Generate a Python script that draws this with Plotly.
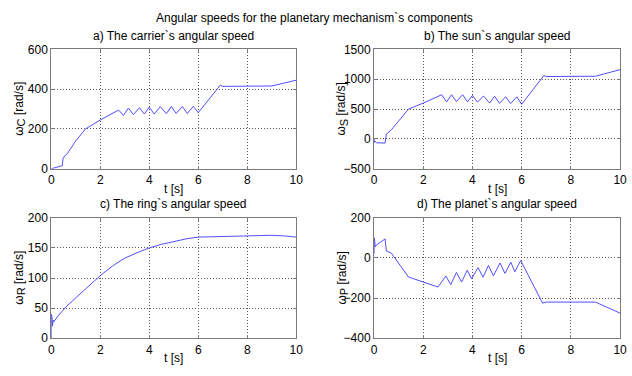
import plotly.graph_objects as go

# ---- data ----
t_carrier = [0, 0.2, 0.45, 0.48, 0.55, 0.65, 1.0, 1.4, 2.0, 2.75, 2.95, 3.15, 3.35, 3.6, 3.8, 4.0, 4.2,
             4.45, 4.7, 4.9, 5.1, 5.35, 5.55, 5.8, 6.0, 6.9, 7.0, 8.0, 9.0, 10.0]
w_carrier = [0, 5, 15, 50, 65, 75, 140, 200, 245, 295, 268, 305, 272, 307, 275, 310, 275,
             312, 277, 313, 278, 313, 278, 313, 282, 420, 414, 415, 416, 445]

t_sun = [0, 0.02, 0.05, 0.1, 0.45, 0.5, 0.7, 1.0, 1.4, 2.0, 2.75, 2.95, 3.15, 3.35, 3.6, 3.8, 4.0,
         4.2, 4.45, 4.7, 4.9, 5.1, 5.35, 5.55, 5.8, 6.0, 6.9, 7.0, 8.0, 9.0, 10.0]
w_sun = [0, -60, -40, -65, -70, 80, 150, 300, 500, 600, 740, 620, 740, 625, 740, 620, 730,
         615, 720, 600, 715, 595, 705, 590, 705, 580, 1060, 1045, 1048, 1050, 1160]

t_ring = [0, 0.01, 0.02, 0.03, 0.05, 0.08, 0.1, 0.3, 0.6, 1.0, 1.5, 2.0, 2.5, 3.0, 3.5, 4.0, 4.5,
          5.0, 5.5, 6.0, 6.5, 7.0, 8.0, 9.0, 9.5, 10.0]
w_ring = [0, 40, 15, 35, 20, 30, 27, 38, 52, 67, 85, 104, 120, 133, 142, 150, 156,
          161, 165, 168, 168.5, 169, 170, 171, 170, 168]

t_planet = [0, 0.01, 0.02, 0.03, 0.05, 0.1, 0.45, 0.5, 0.7, 1.4, 2.0, 2.6, 2.92, 3.12, 3.35, 3.56,
            3.79, 3.96, 4.23, 4.43, 4.65, 4.85, 5.12, 5.32, 5.56, 5.72, 5.96, 6.85, 7.0, 8.0, 9.0, 10.0]
w_planet = [20, 100, 40, 80, 55, 65, 95, 35, 25, -95, -120, -145, -90, -133, -72, -120,
            -61, -104, -48, -96, -37, -89, -25, -77, -21, -69, -13, -225, -220, -220, -220, -275]

x_ticks = [0, 2, 4, 6, 8, 10]
panels = [
    dict(t=t_carrier, w=w_carrier, title="a) The carrier`s angular speed", sub="C",
         yrange=[0, 600], yticks=[0, 200, 400, 600]),
    dict(t=t_sun, w=w_sun, title="b) The sun`s angular speed", sub="S",
         yrange=[-500, 1500], yticks=[-500, 0, 500, 1000, 1500]),
    dict(t=t_ring, w=w_ring, title="c) The ring`s angular speed", sub="R",
         yrange=[0, 200], yticks=[0, 50, 100, 150, 200]),
    dict(t=t_planet, w=w_planet, title="d) The planet`s angular speed", sub="P",
         yrange=[-400, 200], yticks=[-400, -200, 0, 200]),
]

W, H = 632, 376
# plot-area pixel boxes (left, right, top, bottom)
boxes = [(49, 298, 44, 168), (377, 627, 44, 168), (49, 298, 219, 344), (377, 627, 219, 344)]

FONT = "Arial, Liberation Sans, sans-serif"
FS = 12
fig = go.Figure()
layout = dict(width=W, height=H, margin=dict(l=0, r=0, t=0, b=0), paper_bgcolor="white",
              plot_bgcolor="white", showlegend=False, font=dict(family=FONT, size=FS, color="black"))
annotations = []
for i, (p, (l, r, tp, bt)) in enumerate(zip(panels, boxes)):
    n = "" if i == 0 else str(i + 1)
    fig.add_trace(go.Scatter(x=p["t"], y=p["w"], mode="lines", line=dict(color="#4f4fff", width=1),
                             xaxis="x" + n, yaxis="y" + n))
    common = dict(showline=True, linecolor="#7a7a7a", linewidth=1, mirror="ticks", ticks="inside",
                  ticklen=3, tickcolor="#7a7a7a", showgrid=True, gridcolor="#555555",
                  griddash="1px,2px", gridwidth=1, zeroline=False, tickfont=dict(size=FS))
    layout["xaxis" + n] = dict(domain=[l / W, r / W], anchor="y" + n, range=[0, 10], tickvals=x_ticks,
                               **common)
    layout["yaxis" + n] = dict(domain=[1 - bt / H, 1 - tp / H], anchor="x" + n, range=p["yrange"],
                               tickvals=p["yticks"], **common)
    cx = (l + r) / 2
    annotations.append(dict(text=p["title"], x=cx / W, y=1 - (tp - 14) / H, xref="paper", yref="paper",
                            showarrow=False, xanchor="center", yanchor="middle", font=dict(size=FS)))
    annotations.append(dict(text="t [s]", x=cx / W, y=1 - (bt + 21) / H, xref="paper", yref="paper",
                            showarrow=False, xanchor="center", yanchor="middle", font=dict(size=FS)))
    ylab = "ω<sub><span style='font-size:11px'>" + p["sub"] + "</span></sub> [rad/s]"
    annotations.append(dict(text=ylab, x=(l - 32) / W, y=1 - (tp + bt) / 2 / H, xref="paper",
                            yref="paper", showarrow=False, textangle=-90, xanchor="center",
                            yanchor="middle", font=dict(size=FS)))
annotations.append(dict(text="Angular speeds for the planetary mechanism`s components", x=0.5,
                        y=1 - 11 / H, xref="paper", yref="paper", showarrow=False, xanchor="center",
                        yanchor="middle", font=dict(size=FS)))
layout["annotations"] = annotations
fig.update_layout(**layout)
fig.write_html("out.html")
